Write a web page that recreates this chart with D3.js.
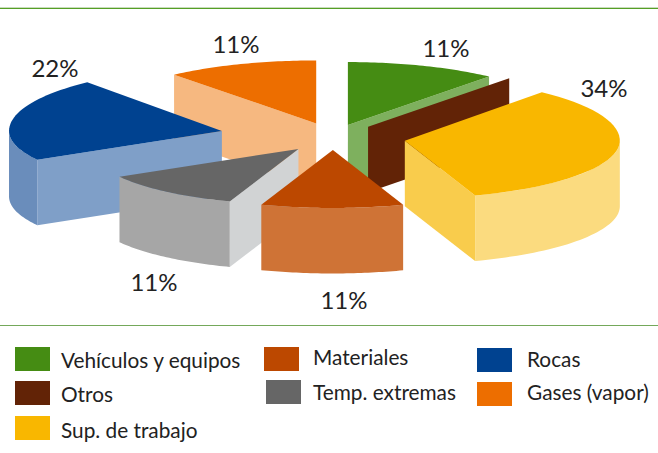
<!DOCTYPE html>
<html><head><meta charset="utf-8">
<script src="https://cdn.jsdelivr.net/npm/d3@7"></script>
<style>html,body{margin:0;padding:0;background:#fff}svg{display:block}text{font-family:Lato,"Open Sans",sans-serif;fill:#222}</style>
</head><body><svg id="c" width="658" height="453"></svg>
<script>
// data
const categories = ["Vehículos y equipos","Otros","Sup. de trabajo","Materiales","Temp. extremas","Rocas","Gases (vapor)"];
const values = [11,0,33.7,10.7,11.3,22.4,10.9];
const valueLabels = ["11%",null,"34%","11%","11%","22%","11%"];
// style
const topColors  = ["#458c13","#622306","#f9b700","#bc4800","#666666","#004290","#ed6e00"];
const rimColors  = ["#7eb05e","#622306","#fbdb7f","#cf7336","#a6a6a6","#6a8dbb","#f6b880"];
const wallColors = ["#7eb05e","#622306","#f9cc4c","#cf7336","#d1d3d4","#7f9fc8","#f6b880"];
const explosion  = [44,55,73,45,54,113,50];
const radiusScale = [1.03,1.03,1,1,0.96,0.99,1.045];
const lift = [0,2,0,0,0,0,0];
const paintOrder = [0,6,1,5,2,4,3];
const labelPos = [[446,57],null,[604,97],[344,309],[154,291],[55,77],[236,53]];
const legendPos = [[15,347,61,368],[15,381,61,402],[15,416,61,438],[264,347,313,365],[266,380,313,400],[477,348,527,367],[477,382,527,400]];

const W=658,H=453,cx=333,cy=137,rx=215,ryBack=63,ryFront=58,depth=65.5,k=0.288;
const svg=d3.select("#c");
svg.append("rect").attr("x",0).attr("y",7).attr("width",W).attr("height",1).attr("fill","#c9dcbc");
svg.append("rect").attr("x",0).attr("y",8).attr("width",W).attr("height",1).attr("fill","#559f25");
svg.append("rect").attr("x",0).attr("y",325).attr("width",W).attr("height",1).attr("fill","#74a85a");

const pie=d3.pie().sort(null).value(d=>d)(values);
const line=d3.line();
const HALF=Math.PI/2, TQ=3*Math.PI/2;

paintOrder.forEach(i=>{
  const s=pie[i], mid=(s.startAngle+s.endAngle)/2, e=explosion[i], r=radiusScale[i];
  const ax=cx+e*Math.sin(mid), ay=cy-e*k*Math.cos(mid)+lift[i];
  const pt=a=>{const c=Math.cos(a);return [ax+rx*r*Math.sin(a), ay-(c>0?ryBack:ryFront*r)*c];};
  const sweep=(a0,a1)=>d3.range(0,41).map(t=>pt(a0+(a1-a0)*t/40));
  const g=svg.append("g");
  const wall=a=>{
    const p=pt(a);
    return line([[ax,ay],p,[p[0],p[1]+depth],[ax,ay+depth]])+"Z";
  };
  if(Math.sin(s.endAngle)>0) g.append("path").attr("d",wall(s.endAngle)).attr("fill",wallColors[i]);
  if(Math.sin(s.startAngle)<0) g.append("path").attr("d",wall(s.startAngle)).attr("fill",wallColors[i]);
  const a0=Math.max(s.startAngle,HALF), a1=Math.min(s.endAngle,TQ);
  if(a1>a0){
    const upper=sweep(a0,a1);
    const lower=upper.slice().reverse().map(p=>[p[0],p[1]+depth]);
    g.append("path").attr("d",line(upper.concat(lower))+"Z").attr("fill",rimColors[i]);
  }
  if(values[i]>0) g.append("path").attr("d",line([[ax,ay]].concat(sweep(s.startAngle,s.endAngle)))+"Z").attr("fill",topColors[i]);
});
valueLabels.forEach((t,i)=>{ if(t) svg.append("text").attr("x",labelPos[i][0]).attr("y",labelPos[i][1])
  .attr("text-anchor","middle").attr("font-size",24).text(t);});
categories.forEach((c,i)=>{
  const p=legendPos[i];
  svg.append("rect").attr("x",p[0]).attr("y",p[1]).attr("width",35).attr("height",24).attr("fill",topColors[i]);
  svg.append("text").attr("x",p[2]).attr("y",p[3]).attr("font-size",20.8).text(c);
});
</script></body></html>
